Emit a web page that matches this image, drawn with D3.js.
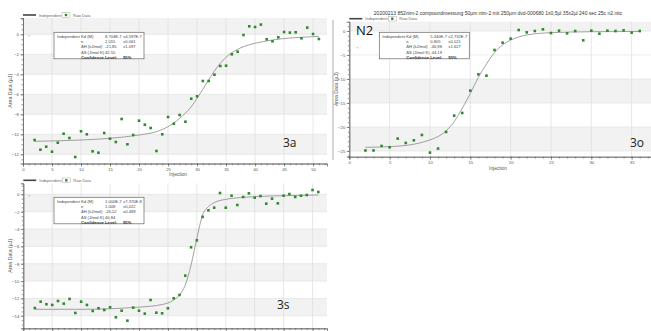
<!DOCTYPE html>
<html><head><meta charset="utf-8">
<script src="https://cdn.jsdelivr.net/npm/d3@7"></script>
<style>
html,body{margin:0;padding:0;background:#fff;}
svg{display:block;font-family:"Liberation Sans",Arial,sans-serif;}
</style></head>
<body><svg id="c" width="651" height="331"></svg>
<script>
// ---------- data: panel 3a ----------
const inj3a = [2,3,4,5,6,7,8,9,10,11,12,13,14,15,16,17,18,19,20,21,22,23,24,25,26,27,28,29,30,31,32,33,34,35,36,37,38,39,40,41,42,43,44,45,46,47,48,49,50,51];
const raw3a = [-10.57,-11.54,-11.24,-11.74,-10.84,-9.94,-10.37,-12.27,-9.7,-10.0,-11.7,-11.84,-9.87,-10.44,-10.77,-8.47,-11.0,-10.07,-8.64,-9.04,-9.37,-11.67,-10.0,-8.27,-8.94,-8.07,-8.74,-6.44,-6.2,-4.67,-4.67,-4.04,-3.17,-3.14,-2.0,-1.74,-0.07,0.8,0.73,0.97,-0.5,-0.7,-0.3,0.23,0.17,0.2,-0.4,0.67,0.03,-0.47];
const fitX3a = [2,10,15,20,23,25,27,29,30,31,32,33,34,35,36,38,40,43,46,50,51];
const fit3a  = [-10.7,-10.57,-10.4,-10.07,-9.73,-9.24,-8.4,-7.24,-6.4,-5.5,-4.57,-3.67,-2.9,-2.3,-1.84,-1.24,-0.9,-0.57,-0.37,-0.24,-0.2];
const first3a = [1,-0.17];
const params3a = ["8,704E-7","±4,597E-7","2,055","±0,061","-21,85","±1,097","42,55"];

// ---------- data: panel 3o (N2) ----------
const inj3o = [2,3,4,5,6,7,8,9,10,11,12,13,14,15,16,17,18,19,20,21,22,23,24,25,26,27,28,29,30,31,32,33,34,35,36];
const raw3o = [-24.9,-24.9,-23.96,-24.24,-22.43,-23.33,-22.78,-21.67,-25.35,-24.51,-21.04,-17.64,-17.08,-12.43,-9.03,-9.31,-3.96,-2.43,-1.6,0.21,-0.28,0,0.35,-0.42,0.07,-0.49,0,-1.94,0.07,-0.56,0.07,0,0.14,-0.35,0];
const fitX3o = [2,5,8,10,11,12,13,14,15,16,17,18,19,20,22,25,30,36];
const fit3o  = [-24.24,-24.1,-23.6,-22.7,-22.0,-20.8,-18.9,-16.1,-13.0,-9.65,-6.9,-4.5,-2.9,-1.9,-0.83,-0.35,-0.15,-0.1];
const first3o = [1,-3.5];
const params3o = ["5,340E-7","±2,732E-7","0,805","±0,021","-46,98","±1,627","-44,19"];

// ---------- data: panel 3s ----------
const inj3s = [2,3,4,5,6,7,8,9,10,11,12,13,14,15,16,17,18,19,20,21,22,23,24,25,26,27,28,29,30,31,32,33,34,35,36,37,38,39,40,41,42,43,44,45,46,47,48,49,50,51];
const raw3s = [-13.1,-12.37,-12.67,-12.75,-12.29,-12.6,-12.06,-13.67,-12.37,-12.75,-13.44,-13.13,-13.33,-13.02,-14.17,-13.41,-14.56,-13.06,-13.41,-13.75,-12.18,-13.64,-13.71,-13.13,-11.98,-11.6,-9.37,-6.1,-5.3,-2.6,-1.84,-1.54,0.15,-1.54,-0.16,-1.23,-0.31,0.11,-0.39,-0.2,-1.08,-0.5,-1.04,-0.16,0.03,-0.31,-0.16,-0.08,0.5,0.27];
const fitX3s = [2,10,20,24,26,27,28,29,30,31,32,33,35,40,45,51];
const fit3s  = [-13.25,-13.25,-13.0,-12.7,-12.18,-11.6,-10.45,-8.15,-5.07,-2.38,-1.42,-0.96,-0.58,-0.27,-0.16,-0.08];
const first3s = [1,-0.2];
const params3s = ["1,000E-7","±7,370E-8","1,008","±0,022","-26,52","±0,489","40,84"];

// ---------- tick labels ----------
const xTicksA = [0,5,10,15,20,25,30,35,40,45,50];
const yTicksA = [0,-2,-4,-6,-8,-10,-12];
const xTicksO = [0,5,10,15,20,25,30,35];
const yTicksO = [0,-5,-10,-15,-20,-25];
const xTicksS = [0,5,10,15,20,25,30,35,40,45,50];
const yTicksS = [0,-2,-4,-6,-8,-10,-12,-14];
const paramLabels = ["Kd (M)","n","ΔH (kJ/mol)","ΔS (J/mol·K)"];
const titleText = "20200213 852nim-2 compoundmessung 50µm nim-2 mit 250µm dvd-000680 1x0,5µl 35x2µl 240 sec 25c n2.nitc";

const svg = d3.select("#c");
const GREEN = "#2f8a2f";

function panel(o){
  const g = svg.append("g");
  const x = d3.scaleLinear().domain(o.xd).range([o.x0,o.x1]);
  const y = d3.scaleLinear().domain(o.yd).range([o.y1,o.y0]);
  // bands
  o.bands.forEach(b=>{
    g.append("rect").attr("x",o.x0).attr("width",o.x1-o.x0)
      .attr("y",y(Math.min(b[1],o.yd[1]))).attr("height",y(b[0])-y(Math.min(b[1],o.yd[1])))
      .attr("fill","#f2f2f2");
  });
  // grid
  o.xt.filter(v=>v>0).forEach(v=>{
    g.append("line").attr("x1",x(v)).attr("x2",x(v)).attr("y1",o.y0).attr("y2",o.y1).attr("stroke","#dcdcdc").attr("stroke-width",0.7);
  });
  o.yt.forEach(v=>{
    g.append("line").attr("x1",o.x0).attr("x2",o.x1).attr("y1",y(v)).attr("y2",y(v)).attr("stroke","#e2e2e2").attr("stroke-width",0.7);
  });
  // axes
  const xa = d3.axisBottom(x).tickValues(o.xt).tickSize(3).tickPadding(1.5)
    .tickFormat(o.xlabel ? d3.format("d") : "");
  const xm = d3.axisBottom(x).tickValues(d3.range(0,o.xd[1],1)).tickSize(1.8).tickFormat("");
  const ya = d3.axisLeft(y).tickValues(o.yt).tickSize(2.5).tickPadding(1.5).tickFormat(d3.format("d"));
  const ym = d3.axisLeft(y).tickValues(d3.range(Math.ceil(o.yd[0]/o.ym)*o.ym,o.yd[1],o.ym)).tickSize(1.5).tickFormat("");
  [[xa,"b"],[xm,"b"],[ya,"l"],[ym,"l"]].forEach(([a,s])=>{
    const ag = g.append("g").attr("transform", s==="b" ? `translate(0,${o.y1})` : `translate(${o.x0},0)`).call(a);
    ag.selectAll("path,line").attr("stroke","#666").attr("stroke-width",0.7);
    ag.selectAll("text").attr("font-size",4.3).attr("fill","#555").attr("font-family","Liberation Sans, Arial, sans-serif");
    if(!o.xlabel && s==="b") ag.selectAll("text").remove();
  });
  // axis titles
  if(o.xlabel) g.append("text").attr("x",o.xlx).attr("y",o.y1+12.8).attr("text-anchor","middle")
      .attr("font-size",4.8).attr("fill","#555").text("Injection");
  g.append("text").attr("transform",`translate(${o.yl},${(o.y0+o.y1)/2}) rotate(-90)`).attr("text-anchor","middle")
      .attr("font-size",5.2).attr("fill","#555").text("Area Data (µJ)");
  // legend
  const ly = o.y0-3;
  g.append("line").attr("x1",o.x0).attr("x2",o.x0+13).attr("y1",ly).attr("y2",ly).attr("stroke","#444").attr("stroke-width",1.6);
  g.append("text").attr("x",o.x0+16).attr("y",ly+1.5).attr("font-size",4).attr("fill","#666").text("Independent");
  g.append("rect").attr("x",o.x0+39).attr("y",ly-2.3).attr("width",8).attr("height",4.6).attr("fill","none").attr("stroke","#aaa").attr("stroke-width",0.5);
  g.append("rect").attr("x",o.x0+41.8).attr("y",ly-1.2).attr("width",2.4).attr("height",2.4).attr("fill",GREEN);
  g.append("text").attr("x",o.x0+50).attr("y",ly+1.5).attr("font-size",4).attr("fill","#666").text("Raw Data");
  // fit curve
  const line = d3.line().x(d=>x(d[0])).y(d=>y(d[1])).curve(d3.curveMonotoneX);
  g.append("path").datum(d3.zip(o.fx,o.fy)).attr("d",line).attr("fill","none").attr("stroke","#8a8a8a").attr("stroke-width",0.8);
  // first point marker
  g.append("text").attr("x",x(o.first[0])).attr("y",y(o.first[1])+1.3).attr("text-anchor","middle")
    .attr("font-size",4).attr("fill","#999").text("×");
  // raw data
  g.selectAll(null).data(d3.zip(o.inj,o.raw)).join("rect")
    .attr("x",d=>x(d[0])-1.3).attr("y",d=>y(d[1])-1.3).attr("width",2.6).attr("height",2.6).attr("fill",GREEN);
  // info box
  const bx=o.box[0], by=o.box[1], bw=90, bh=26.5;
  g.append("rect").attr("x",bx).attr("y",by).attr("width",bw).attr("height",bh).attr("fill","#fff").attr("stroke","#666").attr("stroke-width",0.7);
  const cols=[bx+3,bx+27,bx+51,bx+69];
  const rows=[0,1,2,3,4].map(i=>by+3.9+i*5.3);
  const p=o.params;
  const cells=[
    ["Independent",paramLabels[0],p[0],p[1]],
    ["",paramLabels[1],p[2],p[3]],
    ["",paramLabels[2],p[4],p[5]],
    ["",paramLabels[3],p[6],""]
  ];
  cells.forEach((r,i)=>r.forEach((t,j)=>{
    if(t) g.append("text").attr("x",cols[j]).attr("y",rows[i]+1.5).attr("font-size",4.1).attr("fill","#444").text(t);
  }));
  ["Confidence","Level:","95%"].forEach((t,j)=>{
    g.append("text").attr("x",cols[j+1]).attr("y",rows[4]+1.5).attr("font-size",4.2).attr("font-weight","bold").attr("fill","#333").text(t);
  });
  // panel label
  g.append("text").attr("x",o.lab[0]).attr("y",o.lab[1]).attr("font-size",12).attr("fill","#222")
    .attr("font-family","Open Sans, Liberation Sans, sans-serif").text(o.labText);
  return g;
}

panel({x0:23,x1:327,y0:18,y1:163.5,xd:[0,52.4],yd:[-12.92,1.63],xt:xTicksA,yt:yTicksA,ym:0.5,
  bands:[[0,5],[-4,-2],[-8,-6],[-12,-10]],xlabel:true,xlx:178,yl:12,
  inj:inj3a,raw:raw3a,fx:fitX3a,fy:fit3a,first:first3a,params:params3a,box:[54,32.3],lab:[283,147],labText:"3a"});

panel({x0:349.3,x1:651,y0:21.7,y1:156.7,xd:[0,37.4],yd:[-26.2,1.94],xt:xTicksO,yt:yTicksO,ym:1,
  bands:[[0,5],[-15,-10],[-25,-20]],xlabel:true,xlx:498,yl:338,
  inj:inj3o,raw:raw3o,fx:fitX3o,fy:fit3o,first:first3o,params:params3o,box:[379.3,32.3],lab:[630,147],labText:"3o"});

panel({x0:23.3,x1:327,y0:183.3,y1:328.3,xd:[0,52.5],yd:[-15.44,1.27],xt:xTicksS,yt:yTicksS,ym:0.5,
  bands:[[-2,0],[-6,-4],[-10,-8],[-14,-12]],xlabel:false,yl:12,
  inj:inj3s,raw:raw3s,fx:fitX3s,fy:fit3s,first:first3s,params:params3s,box:[54,197.3],lab:[277,309],labText:"3s"});

// title and extras for panel 2
svg.append("text").attr("x",498).attr("y",14.5).attr("text-anchor","middle").attr("font-size",5).attr("fill","#333").text(titleText);
svg.append("text").attr("x",356).attr("y",35).attr("font-size",13).attr("fill","#111")
  .attr("font-family","Open Sans, Liberation Sans, sans-serif").text("N2");
svg.append("line").attr("x1",333).attr("x2",333).attr("y1",20).attr("y2",160).attr("stroke","#888").attr("stroke-width",0.7);
</script></body></html>
